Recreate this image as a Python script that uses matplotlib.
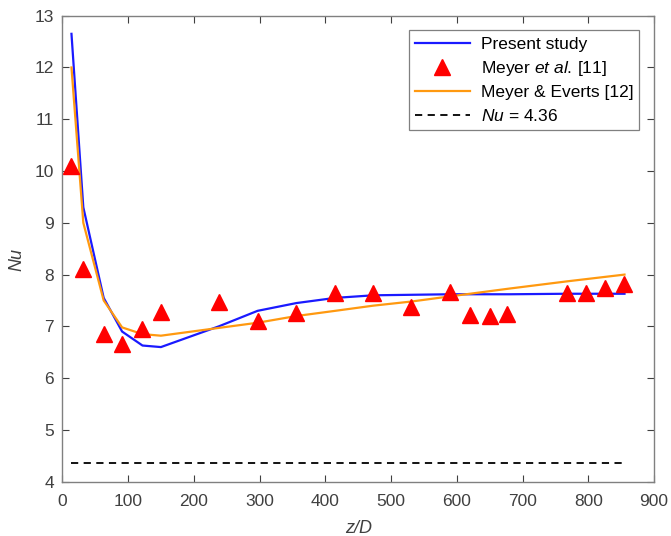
import matplotlib
matplotlib.use("Agg")
import matplotlib.pyplot as plt

plt.rcParams['font.family'] = ['Liberation Sans', 'DejaVu Sans']
plt.rcParams['mathtext.fontset'] = 'custom'
plt.rcParams['mathtext.rm'] = 'Liberation Sans'
plt.rcParams['mathtext.it'] = 'Liberation Sans:italic'

# Present study
present_x = [14, 32, 63, 91, 122, 150, 238, 297, 356, 415, 473, 590, 680, 768, 855]
present_y = [12.65, 9.3, 7.55, 6.9, 6.63, 6.6, 7.0, 7.3, 7.45, 7.55, 7.6, 7.62, 7.62, 7.63, 7.63]

# Meyer et al. [11]
meyer_x = [14, 32, 63, 91, 122, 150, 238, 297, 356, 415, 473, 531, 590, 620, 650, 677, 767, 796, 825, 854]
meyer_y = [10.1, 8.1, 6.86, 6.66, 6.95, 7.27, 7.48, 7.1, 7.25, 7.65, 7.65, 7.38, 7.67, 7.22, 7.2, 7.23, 7.65, 7.65, 7.75, 7.82]

# Meyer & Everts [12]
everts_x = [14, 32, 63, 91, 122, 150, 238, 297, 356, 415, 473, 531, 590, 680, 768, 855]
everts_y = [12.0, 9.0, 7.5, 6.98, 6.85, 6.82, 6.97, 7.07, 7.2, 7.3, 7.4, 7.48, 7.58, 7.73, 7.87, 8.0]

nu_const = 4.36
const_x = [14, 855]

xticks = [0, 100, 200, 300, 400, 500, 600, 700, 800, 900]
yticks = [4, 5, 6, 7, 8, 9, 10, 11, 12, 13]

fig = plt.figure(figsize=(6.71, 5.36), dpi=100)
ax = fig.add_axes([0.0928, 0.1013, 0.882, 0.8694])

ax.plot(present_x, present_y, color='#1a1aff', lw=1.6, label='Present study', zorder=3)
ax.plot(meyer_x, meyer_y, linestyle='none', marker='^', color='#ff0000', ms=11,
        label=r'Meyer $\mathit{et\ al.}\,$[11]', zorder=4)
ax.plot(everts_x, everts_y, color='#ff9910', lw=1.6, label='Meyer & Everts [12]', zorder=3)
ax.plot(const_x, [nu_const, nu_const], color='black', lw=1.3, linestyle=(0, (4, 3)),
        label=r'$\mathit{Nu}$ = 4.36', zorder=2)

ax.set_xlim(0, 900)
ax.set_ylim(4, 13)
ax.set_xticks(xticks)
ax.set_yticks(yticks)
ax.tick_params(direction='in', top=True, right=True, labelsize=12.5,
               colors='#404040', length=5, width=0.8)
ax.tick_params(axis='x', pad=9)
ax.tick_params(axis='y', pad=6)
for s in ax.spines.values():
    s.set_color('#808080')
    s.set_linewidth(1.0)

ax.set_xlabel('z/D', fontsize=13, style='italic', color='#404040')
ax.xaxis.set_label_coords(0.5, -0.082)
ax.set_ylabel('Nu', fontsize=13, style='italic', color='#404040')
ax.yaxis.set_label_coords(-0.062, 0.476)

leg = ax.legend(loc='upper right', fontsize=12.5, frameon=True, fancybox=False,
                edgecolor='#606060', handlelength=3.2, borderpad=0.35,
                labelspacing=0.42, handletextpad=0.6, borderaxespad=0.85)
leg.get_frame().set_linewidth(0.9)

fig.savefig('out.png', dpi=100)
